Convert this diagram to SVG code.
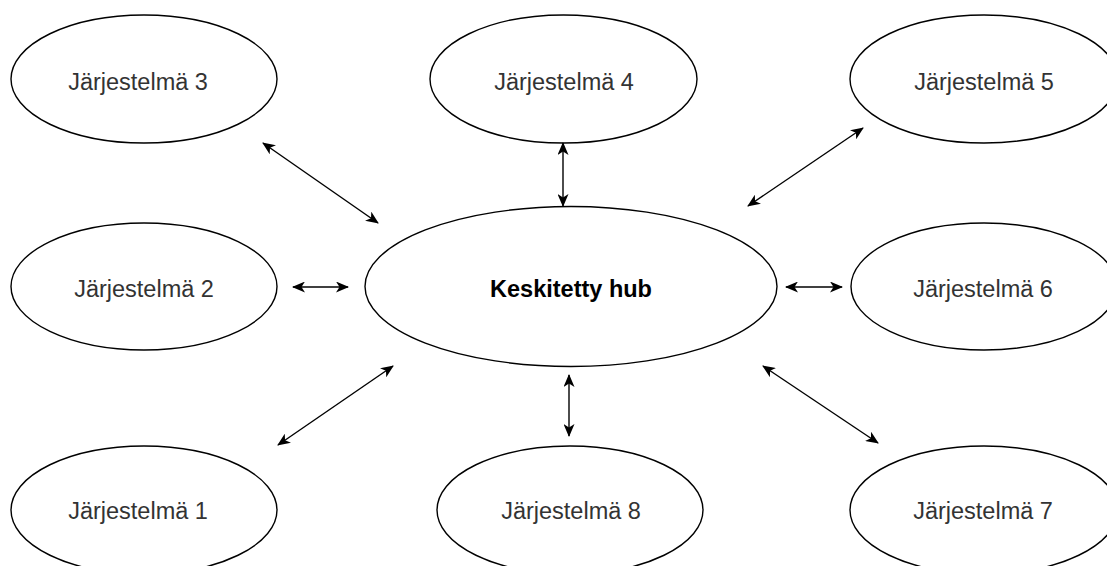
<svg xmlns="http://www.w3.org/2000/svg" width="1107" height="566" viewBox="0 0 1107 566">
<style>
.node ellipse{fill:#fff;stroke:#000;stroke-width:1.4}
.node text{font-family:"Liberation Sans",Arial,sans-serif;font-size:23.5px;fill:#333;text-anchor:middle}
.node text.bold{font-weight:bold;fill:#000}
.edge{stroke:#000;stroke-width:1.4;fill:none;marker-start:url(#ah);marker-end:url(#ah)}
</style>
<defs>
<marker id="ah" viewBox="0 0 13 11" refX="12" refY="5.5" markerWidth="13" markerHeight="11" markerUnits="userSpaceOnUse" orient="auto-start-reverse">
<path d="M0,0 L13,5.5 L0,11 L3.5,5.5 z" fill="#000"/>
</marker>
</defs>
<rect width="1107" height="566" fill="#fff"/>
<g id="hub" class="node"><ellipse cx="571" cy="286.5" rx="206" ry="80"/><text class="bold" x="571" y="297">Keskitetty hub</text></g>
<g id="j3" class="node"><ellipse cx="144" cy="79" rx="133" ry="64"/><text x="138" y="90">Järjestelmä 3</text></g>
<g id="j4" class="node"><ellipse cx="563.5" cy="79" rx="133.5" ry="64"/><text x="564" y="90">Järjestelmä 4</text></g>
<g id="j5" class="node"><ellipse cx="984" cy="79" rx="134" ry="64"/><text x="984" y="90">Järjestelmä 5</text></g>
<g id="j2" class="node"><ellipse cx="144" cy="286.5" rx="133" ry="63.5"/><text x="144" y="297">Järjestelmä 2</text></g>
<g id="j6" class="node"><ellipse cx="984" cy="286.5" rx="133" ry="63.5"/><text x="983" y="297">Järjestelmä 6</text></g>
<g id="j1" class="node"><ellipse cx="144" cy="510" rx="133" ry="64"/><text x="138" y="519">Järjestelmä 1</text></g>
<g id="j8" class="node"><ellipse cx="570" cy="510" rx="133" ry="64"/><text x="571" y="519">Järjestelmä 8</text></g>
<g id="j7" class="node"><ellipse cx="984" cy="510" rx="134" ry="64"/><text x="983" y="519">Järjestelmä 7</text></g>
<g id="connectors">
<line class="edge" x1="263" y1="143" x2="378" y2="223"/>
<line class="edge" x1="563" y1="143" x2="563" y2="206"/>
<line class="edge" x1="863" y1="128" x2="748" y2="206"/>
<line class="edge" x1="293" y1="287" x2="348" y2="287"/>
<line class="edge" x1="786" y1="287" x2="842" y2="287"/>
<line class="edge" x1="278" y1="445" x2="393" y2="366"/>
<line class="edge" x1="569" y1="375" x2="569" y2="436"/>
<line class="edge" x1="763" y1="366" x2="878" y2="443"/>
</g>
</svg>
